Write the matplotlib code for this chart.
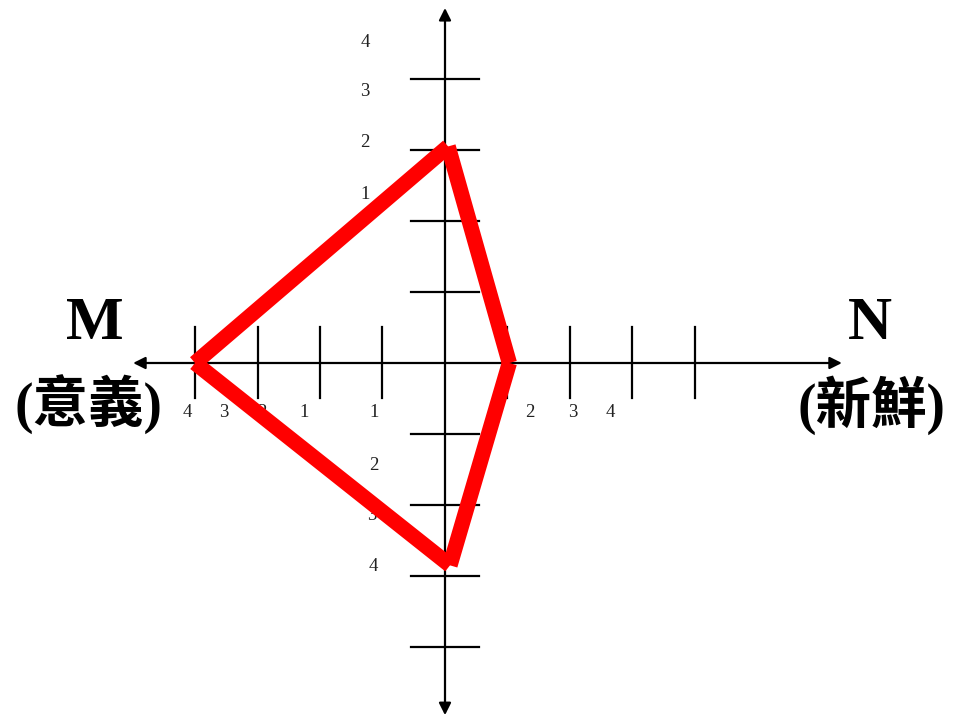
import matplotlib.pyplot as plt

# axis tick levels (units from the origin)
tick_levels = [1, 2, 3, 4]

# red quadrilateral: left (M), top, right (N), bottom
shape_x = [-4.0, 0.05, 1.03, 0.08, -4.0]
shape_y = [0.0, 3.05, 0.0, -2.85, 0.0]

# tick labels as they appear (they do not line up with the ticks)
h_labels = ['4', '3', '2', '1', '1', '2', '3', '4']
h_label_x = [-4.13, -3.54, -2.93, -2.26, -1.14, 1.36, 2.05, 2.64]
v_labels = ['4', '3', '2', '1', '2', '3', '4']
v_label_x = [-1.28, -1.28, -1.28, -1.28, -1.14, -1.17, -1.15]
v_label_y = [4.52, 3.82, 3.10, 2.37, -1.44, -2.15, -2.87]

fig = plt.figure(figsize=(9.61, 7.21), dpi=100)
ax = fig.add_axes([0, 0, 1, 1])
ax.set_xlim(-445 / 62.5, 516 / 62.5)
ax.set_ylim(-358 / 71, 363 / 71)
ax.axis('off')

# axes with arrowheads
arrow = dict(arrowstyle='<|-|>', color='black', lw=1.6,
             mutation_scale=18, shrinkA=0, shrinkB=0)
ax.annotate('', xy=(-4.99, 0), xytext=(6.35, 0), arrowprops=arrow)
ax.annotate('', xy=(0, 5.0), xytext=(0, -4.96), arrowprops=arrow)

# tick marks
for t in tick_levels:
    for s in (-1, 1):
        ax.plot([s * t, s * t], [-0.5, 0.5], color='black', lw=1.6)
        ax.plot([-0.55, 0.55], [s * t, s * t], color='black', lw=1.6)

for lab, x in zip(h_labels, h_label_x):
    ax.text(x, -0.70, lab, ha='center', va='center', fontsize=13.5,
            family='Liberation Serif', color='#222222')
for lab, x, y in zip(v_labels, v_label_x, v_label_y):
    ax.text(x, y, lab, ha='center', va='center', fontsize=13.5,
            family='Liberation Serif', color='#222222')

# red shape, drawn segment by segment
for i in range(len(shape_x) - 1):
    ax.plot(shape_x[i:i + 2], shape_y[i:i + 2], color='#ff0000', lw=11,
            solid_capstyle='butt', zorder=5)

fam = ['Liberation Serif', 'Noto Sans CJK TC']
ax.text(-5.6, 0.55, 'M', ha='center', va='center', fontsize=44,
        fontweight='bold', family=fam)
ax.text(-5.71, -0.59, '(意義)', ha='center', va='center', fontsize=40,
        fontweight='bold', family=fam)
ax.text(6.8, 0.55, 'N', ha='center', va='center', fontsize=44,
        fontweight='bold', family=fam)
ax.text(6.83, -0.59, '(新鮮)', ha='center', va='center', fontsize=40,
        fontweight='bold', family=fam)

fig.savefig('out.png', dpi=100)
